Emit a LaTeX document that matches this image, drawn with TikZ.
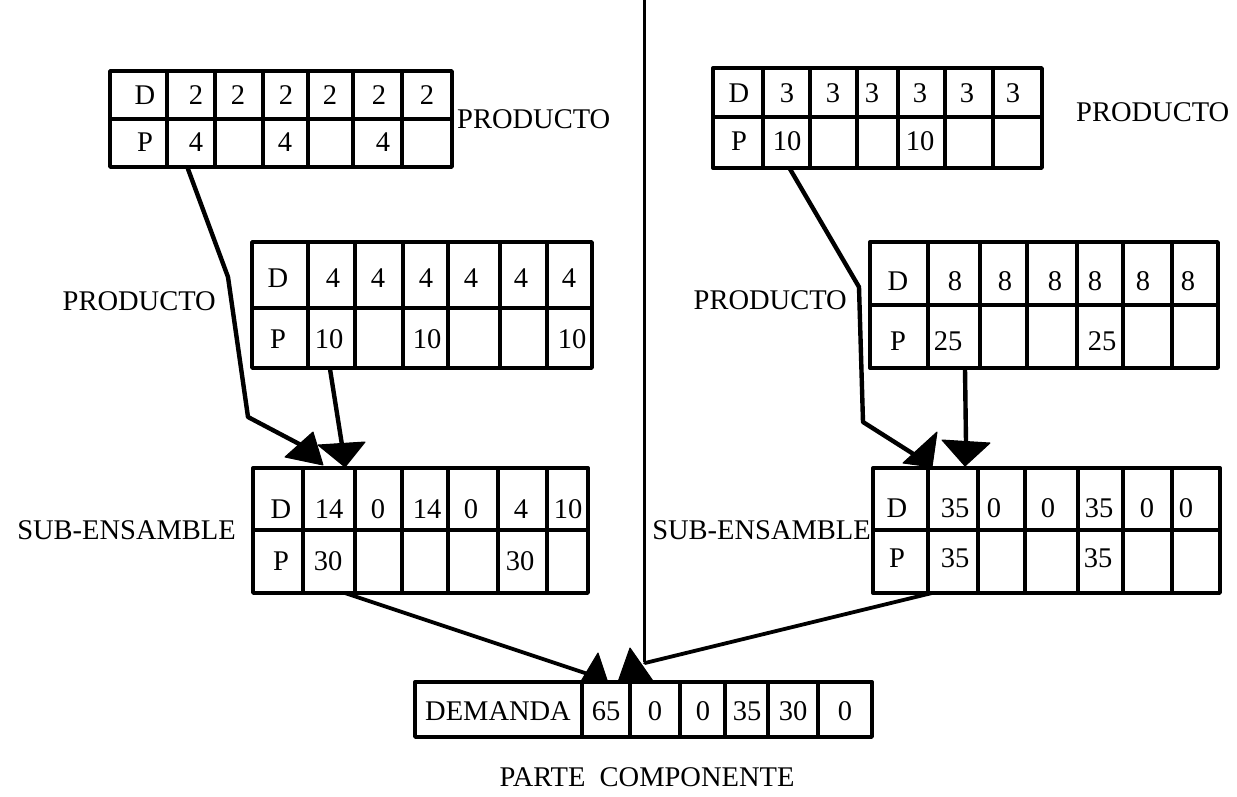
\documentclass[tikz,border=0pt]{standalone}
\usepackage{fontspec}
\setmainfont{Liberation Serif}
\begin{document}
\begin{tikzpicture}[x=1pt,y=-1pt,
  grid/.style={line width=3.4pt, line cap=round, line join=round},
  txt/.style={inner sep=0pt, font=\fontsize{28.5}{32}\selectfont},
  link/.style={line width=4.4pt, line cap=round, line join=round},
  thin link/.style={line width=3.8pt, line cap=round, line join=round},
  head/.style={fill=black, draw=black, line width=1pt, line join=round}]
\useasboundingbox (0,0) rectangle (1237,796);

% two-row record: left, right, top, middle, bottom, inner column lines
\newcommand\tabgrid[6]{%
  \draw[grid] (#1,#3) rectangle (#2,#5);
  \draw[grid] (#1,#4) -- (#2,#4);
  \foreach \c in {#6} \draw[grid] (\c,#3) -- (\c,#5);
}

% ---------- top left: PRODUCTO ----------
\tabgrid{110}{452}{71}{119}{167}{167,215,263,308,353,402}
\foreach \x/\lbl [count=\i] in {145/D,196/2,238/2,286/2,330/2,379/2,427/2}
  \node[txt] (tlD\i) at (\x,95) {\lbl};
\foreach \x/\lbl [count=\i] in {145/P,196/4,285/4,383/4}
  \node[txt] (tlP\i) at (\x,142) {\lbl};
\node[txt, anchor=west] (tlname) at (457,119) {PRODUCTO};

% ---------- top right: PRODUCTO ----------
\tabgrid{713}{1042}{68}{117}{168}{763,810,857,898,945,993}
\foreach \x/\lbl [count=\i] in {739/D,787/3,833/3,872/3,920/3,967/3,1013/3}
  \node[txt] (trD\i) at (\x,93) {\lbl};
\foreach \x/\lbl [count=\i] in {739/P,787/10,920/10}
  \node[txt] (trP\i) at (\x,141) {\lbl};
\node[txt, anchor=west] (trname) at (1076,112) {PRODUCTO};

% ---------- middle left: PRODUCTO ----------
\tabgrid{252}{592}{242}{308}{368}{308,355,403,448,500,547}
\foreach \x/\lbl [count=\i] in {278/D,333/4,378/4,426/4,471/4,521/4,569/4}
  \node[txt] (mlD\i) at (\x,278) {\lbl};
\foreach \x/\lbl [count=\i] in {278/P,329/10,427/10,572/10}
  \node[txt] (mlP\i) at (\x,339) {\lbl};
\node[txt, anchor=east] (mlname) at (216,301) {PRODUCTO};

% ---------- middle right: PRODUCTO ----------
\tabgrid{870}{1218}{242}{305}{368}{928,980,1027,1077,1123,1172}
\foreach \x/\lbl [count=\i] in {898/D,955/8,1005/8,1055/8,1095/8,1143/8,1188/8}
  \node[txt] (mrD\i) at (\x,281) {\lbl};
\foreach \x/\lbl [count=\i] in {898/P,948/25,1102/25}
  \node[txt] (mrP\i) at (\x,341) {\lbl};
\node[txt, anchor=east] (mrname) at (847,300) {PRODUCTO};

% ---------- bottom left: SUB-ENSAMBLE ----------
\tabgrid{253}{588}{468}{530}{593}{303,355,402,448,498,547}
\foreach \x/\lbl [count=\i] in {281/D,329/14,378/0,427/14,471/0,521/4,568/10}
  \node[txt] (slD\i) at (\x,509) {\lbl};
\foreach \x/\lbl [count=\i] in {281/P,328/30,520/30}
  \node[txt] (slP\i) at (\x,561) {\lbl};
\node[txt, anchor=east] (slname) at (236,530) {SUB-ENSAMBLE};

% ---------- bottom right: SUB-ENSAMBLE ----------
\tabgrid{873}{1220}{468}{530}{593}{928,978,1025,1078,1123,1172}
\foreach \x/\lbl [count=\i] in {897/D,955/35,994/0,1048/0,1099/35,1147/0,1186/0}
  \node[txt] (srD\i) at (\x,508) {\lbl};
\foreach \x/\lbl [count=\i] in {897/P,955/35,1098/35}
  \node[txt] (srP\i) at (\x,558) {\lbl};
\node[txt, anchor=east] (srname) at (871,530) {SUB-ENSAMBLE};

% ---------- bottom: DEMANDA (component part) ----------
\draw[grid] (415,682) rectangle (872,737);
\foreach \c in {582,630,680,725,768,818} \draw[grid] (\c,682) -- (\c,737);
\foreach \x/\lbl [count=\i] in {498/DEMANDA,606/65,655/0,703/0,747/35,793/30,845/0}
  \node[txt] (dm\i) at (\x,711) {\lbl};
\node[txt] (ptname) at (647,777) {PARTE\ \ COMPONENTE};

% ---------- divider ----------
\coordinate (divT) at (644,0);
\coordinate (divB) at (644,662);
\draw[line width=3pt] (divT) -- (divB);

% ---------- connectors ----------
% left: top product -> sub-assembly
\coordinate (aS) at (188,169);
\coordinate (aK1) at (228,277);
\coordinate (aK2) at (248,417);
\coordinate (aE) at (303,446);
\draw[link] (aS) -- (aK1) -- (aK2) -- (aE);
\filldraw[head, shift={(aE)}] (-18,11) -- (10,-14) -- (20,19) -- cycle;

% left: middle product -> sub-assembly
\coordinate (bS) at (330,369);
\coordinate (bE) at (342,445);
\draw[link] (bS) -- (bE);
\filldraw[head, shift={(bE)}] (-24,0) -- (23,-3) -- (3,22) -- cycle;

% right: top product -> sub-assembly
\coordinate (cS) at (790,169);
\coordinate (cK1) at (859,287);
\coordinate (cK2) at (863,422);
\coordinate (cE) at (915,455);
\draw[link] (cS) -- (cK1) -- (cK2) -- (cE);
\filldraw[head, shift={(cE)}] (-12,8) -- (22,-23) -- (17,12) -- cycle;

% right: middle product -> sub-assembly
\coordinate (dS) at (965,369);
\coordinate (dE) at (966,442);
\draw[link] (dS) -- (dE);
\filldraw[head, shift={(dE)}] (-24,-2) -- (24,1) -- (-1,24) -- cycle;

% sub-assemblies -> component demand
\coordinate (eS) at (345,593);
\coordinate (eE) at (588,674);
\draw[thin link] (eS) -- (eE);
\filldraw[head, shift={(eE)}] (-8,9) -- (10,-21) -- (20,9) -- cycle;

\coordinate (fS) at (932,593);
\coordinate (fE) at (645,663);
\draw[thin link] (fS) -- (fE);
\filldraw[head, shift={(fE)}] (-27,19) -- (-15,-15) -- (8,18) -- cycle;
\end{tikzpicture}
\end{document}
